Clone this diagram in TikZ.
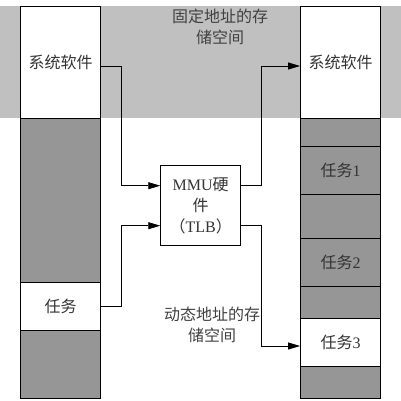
\documentclass[tikz,border=0pt]{standalone}
\usepackage{fontspec}
\setmainfont{Liberation Serif}
\newfontfamily\cjk{Noto Sans CJK SC}
\usepackage{tikz}
\usetikzlibrary{arrows.meta}
\definecolor{bandgray}{RGB}{192,192,192}
\definecolor{cellgray}{RGB}{150,150,150}
\tikzset{
  cell/.style={draw, line width=0.9pt, minimum width=80pt, inner sep=0pt, text=black!80},
  link/.style={line width=0.8pt, -{Triangle[length=12pt,width=7pt]}},
  lbl/.style={align=center, text=black!75, inner sep=0pt}
}

\begin{document}
\begin{tikzpicture}[x=1pt, y=-1pt, font=\fontsize{16}{21}\selectfont]
\useasboundingbox (0,0) rectangle (401,401);
\fill[bandgray] (0,6) rectangle (401,118);
%
\node[cell, fill=white, minimum height=112pt] (lsys) at (60.5,62) {\cjk 系统软件};
\node[cell, fill=cellgray, minimum height=164pt] (lfree1) at (60.5,200) {};
\node[cell, fill=white, minimum height=48pt] (ltask) at (60.5,306) {\cjk 任务};
\node[cell, fill=cellgray, minimum height=68pt] (lfree2) at (60.5,364) {};
%
\node[cell, fill=white, minimum height=112pt] (rsys) at (340.5,62) {\cjk 系统软件};
\node[cell, fill=cellgray, minimum height=28pt] (rfree1) at (340.5,132) {};
\node[cell, fill=cellgray, minimum height=48pt] (rtask1) at (340.5,170) {{\cjk 任务}1};
\node[cell, fill=cellgray, minimum height=44pt] (rfree2) at (340.5,216) {};
\node[cell, fill=cellgray, minimum height=48pt] (rtask2) at (340.5,262) {{\cjk 任务}2};
\node[cell, fill=cellgray, minimum height=32pt] (rfree3) at (340.5,302) {};
\node[cell, fill=white, minimum height=48pt] (rtask3) at (340.5,342) {{\cjk 任务}3};
\node[cell, fill=cellgray, minimum height=32pt] (rfree4) at (340.5,382) {};
%
\node[cell, fill=white, minimum height=80pt, align=center] (mmu) at (200.7,205.7) {MMU{\cjk 硬}\\{\cjk 件}\\{\cjk （}TLB{\cjk ）}};
%
\node[lbl] (fixed) at (220,27) {\cjk 固定地址的存\\\cjk 储空间};
\node[lbl] (dyn) at (212,325) {\cjk 动态地址的存\\\cjk 储空间};
%
\draw[link] ([yshift=-4pt]lsys.east) -- ++(20,0) |- ([yshift=20pt]mmu.west);
\draw[link] (ltask.east) -- ++(20,0) |- ([yshift=-20pt]mmu.west);
\draw[link] ([yshift=20pt]mmu.east) -- ++(20,0) |- ([yshift=-4pt]rsys.west);
\draw[link] ([yshift=-20pt]mmu.east) -- ++(20,0) |- ([yshift=-4pt]rtask3.west);
\end{tikzpicture}
\end{document}
